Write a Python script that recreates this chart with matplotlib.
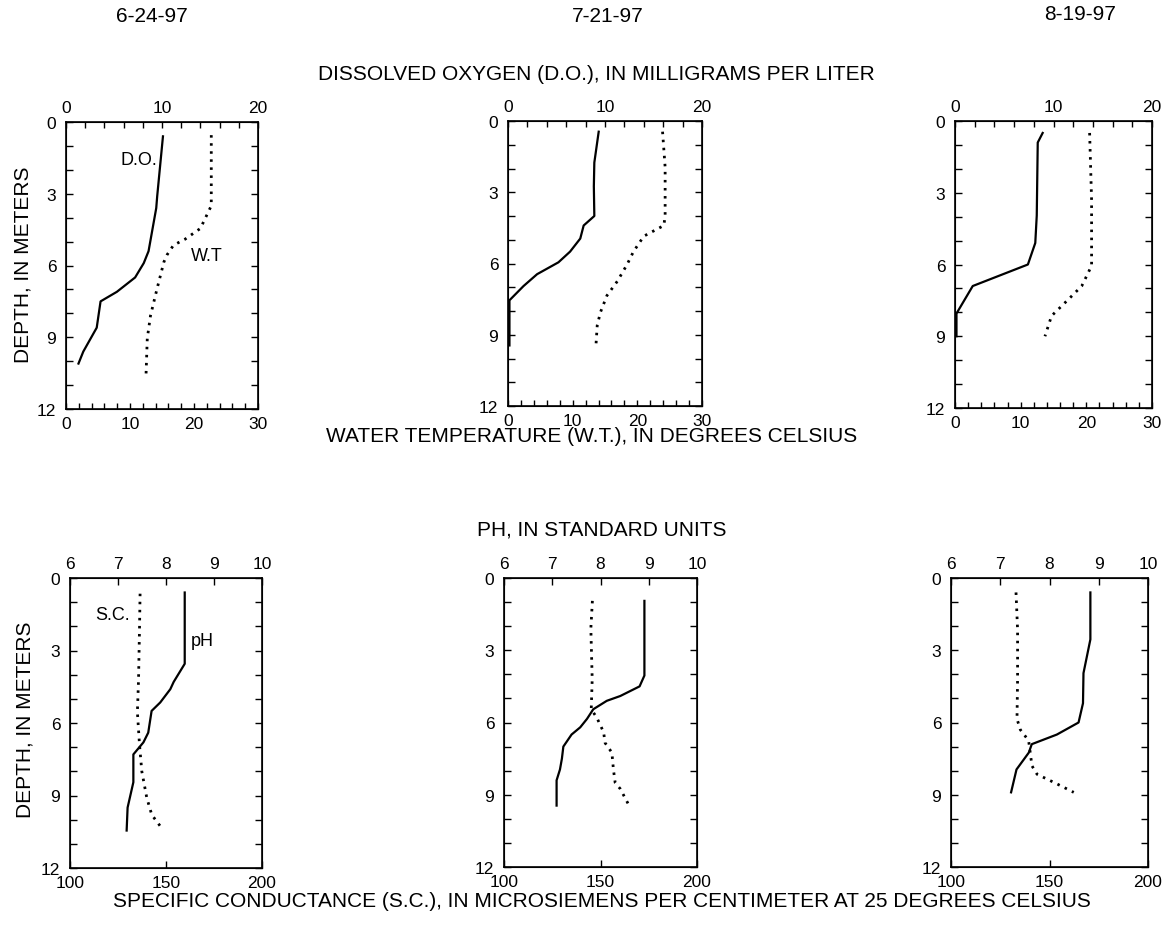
import matplotlib
matplotlib.use("Agg")
import matplotlib.pyplot as plt
from matplotlib.ticker import MultipleLocator

plt.rcParams['font.family'] = ['Liberation Sans', 'DejaVu Sans']

W, H = 1163, 928

# ---------------- data ----------------
dates = ["6-24-97", "7-21-97", "8-19-97"]

# dissolved oxygen (mg/L) and water temperature (deg C) profiles
do1_depth = [0.6, 3.1, 3.6, 5.4, 5.9, 6.5, 7.1, 7.5, 8.6, 9.6, 10.1]
do1 = [10.1, 9.5, 9.4, 8.6, 8.1, 7.2, 5.3, 3.6, 3.2, 1.8, 1.3]
wt1_depth = [0.55, 3.5, 4.45, 4.9, 5.15, 5.55, 5.85, 7.0, 8.1, 9.05, 10.6]
wt1 = [22.7, 22.7, 21.0, 18.6, 16.8, 15.8, 15.3, 14.2, 13.2, 12.7, 12.5]

do2_depth = [0.45, 1.75, 2.75, 4.0, 4.4, 4.95, 5.5, 5.95, 6.45, 6.95, 7.55, 9.45]
do2 = [9.35, 8.9, 8.85, 8.9, 7.8, 7.45, 6.4, 5.2, 3.0, 1.6, 0.15, 0.15]
wt2_depth = [0.45, 1.95, 4.0, 4.4, 4.85, 5.5, 6.05, 6.75, 7.35, 8.05, 8.6, 9.45]
wt2 = [23.9, 24.3, 24.3, 24.1, 21.0, 19.4, 18.4, 16.9, 15.3, 14.3, 13.8, 13.6]

do3_depth = [0.5, 0.9, 3.95, 5.1, 6.0, 6.9, 8.05, 9.0]
do3 = [8.9, 8.4, 8.3, 8.15, 7.4, 1.8, 0.15, 0.15]
wt3_depth = [0.5, 3.3, 6.05, 6.45, 6.9, 7.45, 8.15, 9.0]
wt3 = [20.5, 20.8, 20.8, 20.1, 19.3, 17.3, 14.7, 13.7]

# pH (standard units) and specific conductance (uS/cm) profiles
ph4_depth = [0.6, 3.55, 4.3, 4.6, 5.15, 5.5, 6.4, 6.8, 7.3, 8.45, 9.5, 10.45]
ph4 = [8.39, 8.39, 8.16, 8.09, 7.88, 7.70, 7.63, 7.53, 7.32, 7.32, 7.2, 7.18]
sc4_depth = [0.65, 2.1, 4.2, 5.55, 6.9, 8.0, 9.1, 9.8, 10.3]
sc4 = [136.5, 136.2, 135.7, 135.1, 136.2, 137.4, 140.0, 142.6, 147.3]

ph5_depth = [0.95, 4.05, 4.5, 4.9, 5.1, 5.45, 5.85, 6.2, 6.5, 7.0, 7.5, 7.95, 8.4, 9.45]
ph5 = [8.91, 8.91, 8.81, 8.41, 8.13, 7.85, 7.72, 7.58, 7.4, 7.23, 7.2, 7.16, 7.09, 7.09]
sc5_depth = [0.95, 2.1, 4.2, 5.45, 5.8, 6.4, 6.85, 7.25, 7.95, 8.5, 8.75, 9.4]
sc5 = [145.8, 145.0, 145.7, 145.2, 148.1, 151.6, 152.4, 155.9, 156.7, 157.6, 160.2, 164.5]

ph6_depth = [0.6, 2.55, 3.95, 5.2, 6.0, 6.5, 6.9, 7.25, 7.95, 8.9]
ph6 = [8.83, 8.83, 8.69, 8.68, 8.59, 8.15, 7.64, 7.58, 7.33, 7.22]
sc6_depth = [0.6, 2.15, 4.2, 5.85, 6.3, 6.75, 7.8, 8.15, 8.55, 8.9]
sc6 = [133.0, 133.8, 133.8, 133.5, 135.2, 139.4, 141.1, 143.7, 153.8, 162.3]

depth_ticks = [0, 3, 6, 9, 12]
do_ticks = [0, 10, 20]
wt_ticks = [0, 10, 20, 30]
ph_ticks = [6, 7, 8, 9, 10]
sc_ticks = [100, 150, 200]

# ---------------- figure ----------------
fig = plt.figure(figsize=(W / 100, H / 100), dpi=100)
FS = 15      # titles
TFS = 12.5   # tick labels
SOLID = dict(color='black', lw=1.6, solid_joinstyle='round')
DOT = dict(color='black', lw=2.0, linestyle=(0, (0.9, 2.0)), dash_capstyle='butt')


def rect(l, t, r, b):
    return [l / W, 1 - b / H, (r - l) / W, (b - t) / H]


def style_depth(ax):
    ax.set_ylim(12, 0)
    ax.set_yticks(depth_ticks)
    ax.yaxis.set_minor_locator(MultipleLocator(1))
    ax.tick_params(axis='y', which='both', direction='in', left=True, right=True,
                   labelsize=TFS, pad=7, length=5, width=1.0)
    for s in ax.spines.values():
        s.set_linewidth(1.2)


def top_panel(r, wt_d, wt, do_d, do):
    ax = fig.add_axes(rect(*r))
    ax.set_xlim(0, 30)
    ax.set_xticks(wt_ticks)
    ax.xaxis.set_minor_locator(MultipleLocator(2))
    ax.tick_params(axis='x', which='both', direction='in', top=False, bottom=True,
                   length=4, width=1.0, labelsize=TFS, pad=5)
    style_depth(ax)
    ax.plot(wt, wt_d, **DOT)
    ax2 = ax.twiny()
    ax2.set_xlim(0, 20)
    ax2.set_xticks(do_ticks)
    ax2.xaxis.set_minor_locator(MultipleLocator(2))
    ax2.tick_params(axis='x', which='both', direction='in', length=4, width=1.0,
                    labelsize=TFS, pad=5)
    ax2.plot(do, do_d, **SOLID)
    return ax, ax2


def bottom_panel(r, sc_d, sc, ph_d, ph):
    ax = fig.add_axes(rect(*r))
    ax.set_xlim(100, 200)
    ax.set_xticks(sc_ticks)
    ax.tick_params(axis='x', which='both', direction='in', length=5, width=1.0,
                   labelsize=TFS, pad=5)
    style_depth(ax)
    ax.plot(sc, sc_d, **DOT)
    ax2 = ax.twiny()
    ax2.set_xlim(6, 10)
    ax2.set_xticks(ph_ticks)
    ax2.tick_params(axis='x', which='both', direction='in', length=5, width=1.0,
                    labelsize=TFS, pad=5)
    ax2.plot(ph, ph_d, **SOLID)
    return ax, ax2


a1, b1 = top_panel((66, 123, 258, 410), wt1_depth, wt1, do1_depth, do1)
a2, b2 = top_panel((508, 122, 702, 407), wt2_depth, wt2, do2_depth, do2)
a3, b3 = top_panel((955, 122, 1152, 409), wt3_depth, wt3, do3_depth, do3)

a4, b4 = bottom_panel((70, 579, 262, 869), sc4_depth, sc4, ph4_depth, ph4)
a5, b5 = bottom_panel((504, 579, 697, 868), sc5_depth, sc5, ph5_depth, ph5)
a6, b6 = bottom_panel((951, 579, 1148, 868), sc6_depth, sc6, ph6_depth, ph6)

# in-panel labels
b1.text(7.6, 1.55, "D.O.", fontsize=TFS + 0.5, ha='center', va='center')
a1.text(22.0, 5.6, "W.T", fontsize=TFS + 0.5, ha='center', va='center')
a4.text(121.9, 1.5, "S.C.", fontsize=TFS + 0.5, ha='center', va='center')
b4.text(8.75, 2.6, "pH", fontsize=TFS + 0.5, ha='center', va='center')


def ftext(x, y, s, **kw):
    fig.text(x / W, 1 - y / H, s, fontsize=FS, ha='center', va='center', **kw)


ftext(152, 17, dates[0])
ftext(608, 17, dates[1])
ftext(1080, 14, dates[2])
ftext(596, 75, "DISSOLVED OXYGEN (D.O.), IN MILLIGRAMS PER LITER")
ftext(592, 437, "WATER TEMPERATURE (W.T.), IN DEGREES CELSIUS")
ftext(602, 530, "PH, IN STANDARD UNITS")
ftext(602, 902, "SPECIFIC CONDUCTANCE (S.C.), IN MICROSIEMENS PER CENTIMETER AT 25 DEGREES CELSIUS")
ftext(23, 265, "DEPTH, IN METERS", rotation=90)
ftext(25, 720, "DEPTH, IN METERS", rotation=90)

fig.savefig("out.png", dpi=100)
